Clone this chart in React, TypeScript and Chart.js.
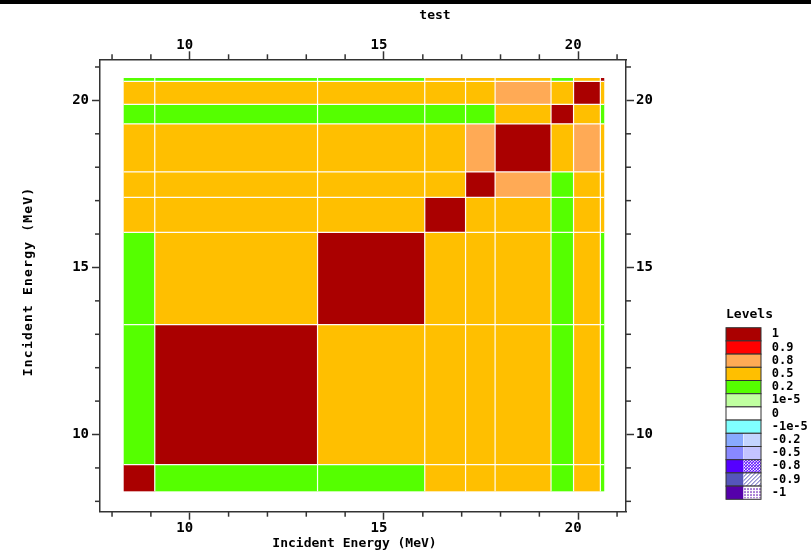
import React, { useEffect, useRef } from 'react';
import { Chart, registerables } from 'chart.js';

Chart.register(...registerables);

// ---- data ----
const binEdges = [8.3, 9.1, 13.29, 16.05, 17.1, 17.86, 19.3, 19.88, 20.57, 20.67];

// correlation matrix, row 0 = lowest energy bin (bottom), column 0 = lowest energy bin (left)
const corrRow0 = [1.0, 0.1, 0.1, 0.35, 0.35, 0.35, 0.1, 0.35, 0.1];
const corrRow1 = [0.1, 1.0, 0.35, 0.35, 0.35, 0.35, 0.1, 0.35, 0.1];
const corrRow2 = [0.1, 0.35, 1.0, 0.35, 0.35, 0.35, 0.1, 0.35, 0.1];
const corrRow3 = [0.35, 0.35, 0.35, 1.0, 0.35, 0.35, 0.1, 0.35, 0.35];
const corrRow4 = [0.35, 0.35, 0.35, 0.35, 1.0, 0.65, 0.1, 0.35, 0.35];
const corrRow5 = [0.35, 0.35, 0.35, 0.35, 0.65, 1.0, 0.35, 0.65, 0.35];
const corrRow6 = [0.1, 0.1, 0.1, 0.1, 0.1, 0.35, 1.0, 0.35, 0.1];
const corrRow7 = [0.35, 0.35, 0.35, 0.35, 0.35, 0.65, 0.35, 1.0, 0.35];
const corrRow8 = [0.1, 0.1, 0.1, 0.35, 0.35, 0.35, 0.1, 0.35, 1.0];
const corrRows = [corrRow0, corrRow1, corrRow2, corrRow3, corrRow4, corrRow5, corrRow6, corrRow7, corrRow8];

const levelValues = [1, 0.9, 0.8, 0.5, 0.2, 1e-5, 0, -1e-5, -0.2, -0.5, -0.8, -0.9, -1];
const levelLabels = ['1', '0.9', '0.8', '0.5', '0.2', '1e-5', '0', '-1e-5', '-0.2', '-0.5', '-0.8', '-0.9', '-1'];
const levelColors = ['#AA0000', '#FF0000', '#FFAA55', '#FFBF00', '#55FF00', '#C0FFA0', '#FFFFFF', '#80FFFF', '#88AAFF', '#8888FF', '#5500FF', '#5555BB', '#5500AA'];
const levelPatterns = ['', '', '', '', '', '', '', '', 'vertical', 'horizontal', 'cross', 'diagonal', 'dotted'];

const tickValues = [8, 9, 10, 11, 12, 13, 14, 15, 16, 17, 18, 19, 20, 21];
const majorTicks = [10, 15, 20];
const axisMin = 7.69;
const axisMax = 21.23;

const titleText = 'test';
const axisTitle = 'Incident Energy (MeV)';
const legendTitle = 'Levels';

const MONO = '"DejaVu Sans Mono", "Liberation Mono", monospace';

function colorFor(v: number): string {
  for (let i = 0; i < levelValues.length - 1; i++) {
    if (v >= levelValues[i + 1]) return levelColors[i];
  }
  return levelColors[levelColors.length - 1];
}

const heatmapPlugin = {
  id: 'heatmap',
  beforeDatasetsDraw(chart: any) {
    const { ctx } = chart;
    const xs = chart.scales.x;
    const ys = chart.scales.y;
    ctx.save();
    for (let r = 0; r < corrRows.length; r++) {
      for (let c = 0; c < corrRows[r].length; c++) {
        const x0 = xs.getPixelForValue(binEdges[c]);
        const x1 = xs.getPixelForValue(binEdges[c + 1]);
        const yb = ys.getPixelForValue(binEdges[r]);
        const yt = ys.getPixelForValue(binEdges[r + 1]);
        ctx.fillStyle = colorFor(corrRows[r][c]);
        ctx.fillRect(x0, yt, x1 - x0, yb - yt);
      }
    }
    ctx.strokeStyle = 'rgba(255,255,255,0.95)';
    ctx.lineWidth = 1.2;
    const xa = xs.getPixelForValue(binEdges[0]);
    const xb = xs.getPixelForValue(binEdges[binEdges.length - 1]);
    const ya = ys.getPixelForValue(binEdges[0]);
    const yb2 = ys.getPixelForValue(binEdges[binEdges.length - 1]);
    for (let i = 1; i < binEdges.length - 1; i++) {
      const px = xs.getPixelForValue(binEdges[i]);
      ctx.beginPath();
      ctx.moveTo(px, ya);
      ctx.lineTo(px, yb2);
      ctx.stroke();
      const py = ys.getPixelForValue(binEdges[i]);
      ctx.beginPath();
      ctx.moveTo(xa, py);
      ctx.lineTo(xb, py);
      ctx.stroke();
    }
    ctx.restore();
  },
};

const decorPlugin = {
  id: 'decor',
  beforeDraw(chart: any) {
    const { ctx, width } = chart;
    ctx.save();
    ctx.fillStyle = '#fff';
    ctx.fillRect(0, 0, width, chart.height);
    ctx.fillStyle = '#000';
    ctx.fillRect(0, 0, width, 4);
    ctx.restore();
  },
  afterDraw(chart: any) {
    const { ctx } = chart;
    ctx.save();
    // minor ticks
    ctx.strokeStyle = '#333';
    ctx.lineWidth = 1.5;
    const minorLen = 5;
    const area = chart.chartArea;
    for (const id of ['x', 'x2', 'y', 'y2']) {
      const s = chart.scales[id];
      for (const v of tickValues) {
        if (majorTicks.includes(v)) continue;
        const p = s.getPixelForValue(v);
        ctx.beginPath();
        if (id === 'x') { ctx.moveTo(p, area.bottom); ctx.lineTo(p, area.bottom + minorLen); }
        if (id === 'x2') { ctx.moveTo(p, area.top); ctx.lineTo(p, area.top - minorLen); }
        if (id === 'y') { ctx.moveTo(area.left, p); ctx.lineTo(area.left - minorLen, p); }
        if (id === 'y2') { ctx.moveTo(area.right, p); ctx.lineTo(area.right + minorLen, p); }
        ctx.stroke();
      }
    }
    // title
    ctx.fillStyle = '#000';
    ctx.font = `bold 13px ${MONO}`;
    ctx.textAlign = 'center';
    ctx.textBaseline = 'middle';
    ctx.fillText(titleText, 435, 16);

    // axis titles
    ctx.fillText(axisTitle, 354.5, 543.5);
    ctx.save();
    ctx.translate(28.5, 282);
    ctx.rotate(-Math.PI / 2);
    (ctx as any).letterSpacing = '1.2px';
    ctx.fillText(axisTitle, 0.6, 0);
    ctx.restore();

    // legend
    const lx = 726;
    const ly0 = 327.7;
    const bw = 35;
    const bh = 13.2;
    ctx.textAlign = 'left';
    ctx.font = `bold 13px ${MONO}`;
    ctx.fillText(legendTitle, lx, 315);
    ctx.font = `bold 12px ${MONO}`;
    for (let i = 0; i < levelLabels.length; i++) {
      const y = ly0 + i * bh;
      const col = levelColors[i];
      const pat = levelPatterns[i];
      if (!pat) {
        ctx.fillStyle = col;
        ctx.fillRect(lx, y, bw, bh);
      } else {
        const half = bw / 2;
        ctx.fillStyle = col;
        ctx.fillRect(lx, y, half, bh);
        ctx.fillStyle = '#fff';
        ctx.fillRect(lx + half, y, half, bh);
        ctx.save();
        ctx.beginPath();
        ctx.rect(lx + half, y, half, bh);
        ctx.clip();
        ctx.strokeStyle = col;
        ctx.lineWidth = 1;
        const x0 = lx + half;
        ctx.beginPath();
        if (pat === 'vertical') {
          for (let xx = x0 + 1; xx < x0 + half; xx += 2) { ctx.moveTo(xx + 0.5, y); ctx.lineTo(xx + 0.5, y + bh); }
        } else if (pat === 'horizontal') {
          for (let yy = y + 1; yy < y + bh; yy += 2) { ctx.moveTo(x0, yy + 0.5); ctx.lineTo(x0 + half, yy + 0.5); }
        } else if (pat === 'cross') {
          for (let k = -bh; k < half + bh; k += 3) {
            ctx.moveTo(x0 + k, y); ctx.lineTo(x0 + k + bh, y + bh);
            ctx.moveTo(x0 + k, y + bh); ctx.lineTo(x0 + k + bh, y);
          }
        } else if (pat === 'diagonal') {
          for (let k = -bh; k < half + bh; k += 4) { ctx.moveTo(x0 + k, y + bh); ctx.lineTo(x0 + k + bh, y); }
        } else if (pat === 'dotted') {
          ctx.setLineDash([2, 1]);
          for (let xx = x0 + 1; xx < x0 + half; xx += 3) { ctx.moveTo(xx + 0.5, y + 2); ctx.lineTo(xx + 0.5, y + bh - 1); }
        }
        ctx.stroke();
        ctx.restore();
      }
      ctx.strokeStyle = '#333';
      ctx.lineWidth = 1;
      ctx.strokeRect(lx, y, bw, bh);
      ctx.fillStyle = '#000';
      ctx.fillText(levelLabels[i], 771.7, y + bh / 2);
    }
    ctx.restore();
  },
};

function axisOptions(position: string, size: number, labelPad: number, labelOffset: number) {
  const horizontal = position === 'top' || position === 'bottom';
  return {
    type: 'linear',
    position,
    min: axisMin,
    max: axisMax,
    afterBuildTicks: (s: any) => {
      s.ticks = tickValues.map((v) => ({ value: v }));
    },
    afterFit: (s: any) => {
      if (horizontal) s.height = size;
      else s.width = size;
    },
    ticks: {
      autoSkip: false,
      maxRotation: 0,
      padding: labelPad,
      labelOffset,
      color: '#000',
      font: { family: MONO, size: 14, weight: 'bold' },
      callback: (v: any) => (majorTicks.includes(Number(v)) ? String(v) : ''),
    },
    grid: {
      drawOnChartArea: false,
      drawTicks: true,
      tickLength: 8,
      tickWidth: 1.5,
      tickColor: (c: any) => (c.tick && majorTicks.includes(c.tick.value) ? '#333' : 'rgba(0,0,0,0)'),
    },
    border: { display: true, color: '#333', width: 1.5 },
    title: { display: false },
  };
}

export default function App() {
  const ref = useRef<HTMLCanvasElement | null>(null);
  useEffect(() => {
    if (!ref.current) return;
    const chart = new Chart(ref.current, {
      type: 'scatter',
      data: { datasets: [{ data: [], xAxisID: 'x', yAxisID: 'y' }] },
      options: {
        animation: false,
        responsive: false,
        devicePixelRatio: 1,
        layout: { padding: 0 },
        plugins: { legend: { display: false }, tooltip: { enabled: false }, title: { display: false } },
        scales: {
          x: axisOptions('bottom', 39.3, 0.5, -5) as any,
          x2: axisOptions('top', 59.3, -2, -5) as any,
          y: axisOptions('left', 100, 3, 0) as any,
          y2: axisOptions('right', 185, 2, 0) as any,
        },
      } as any,
      plugins: [heatmapPlugin, decorPlugin],
    });
    return () => chart.destroy();
  }, []);
  return (
    <div style={{ position: 'absolute', left: 0, top: 0, width: 811, height: 551, background: '#fff' }}>
      <canvas ref={ref} width={811} height={551} style={{ display: 'block' }} />
    </div>
  );
}
